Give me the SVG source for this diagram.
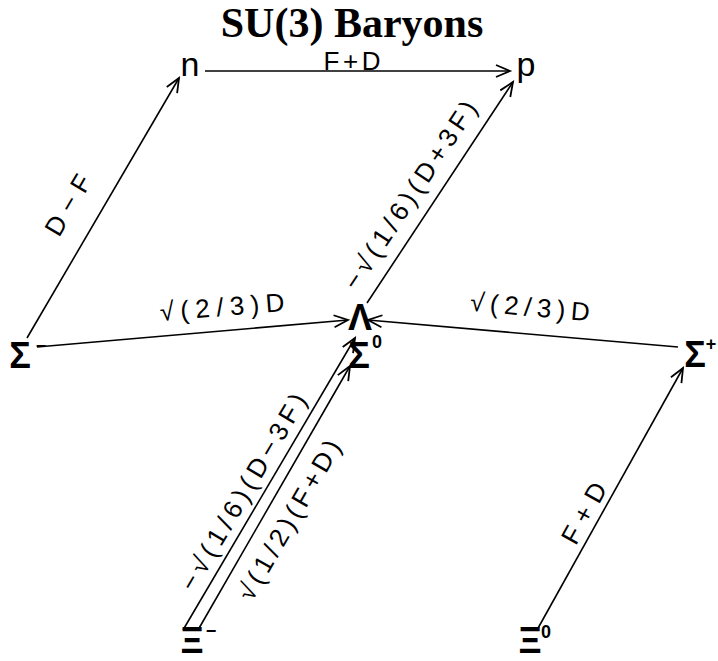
<svg xmlns="http://www.w3.org/2000/svg" width="718" height="661" viewBox="0 0 718 661">
<style>
.bg{fill:#fff}
.title{font-family:"Liberation Serif","Times New Roman",serif;font-weight:bold;font-size:42px;fill:#000}
.lbl{font-family:"Liberation Sans",Arial,sans-serif;font-size:26px;fill:#000}
.node{font-family:"Liberation Sans",Arial,sans-serif;font-size:34px;fill:#000}
.greek{font-family:"Liberation Sans",Arial,sans-serif;font-weight:bold;font-size:36px;fill:#000}
.sup{font-family:"Liberation Sans",Arial,sans-serif;font-weight:bold;font-size:18px;fill:#000}
.edge{stroke:#000;stroke-width:1.6;fill:none;marker-end:url(#arr)}
</style>
<defs>
<marker id="arr" markerUnits="userSpaceOnUse" markerWidth="18" markerHeight="16" refX="15" refY="7" orient="auto">
<path d="M1,1 L15,7 L1,13" fill="none" stroke="#000" stroke-width="1.8"/>
</marker>
</defs>
<rect class="bg" x="0" y="0" width="718" height="661"/>
<text class="title" x="352" y="37" text-anchor="middle">SU(3) Baryons</text>

<g id="connectors">
<line class="edge" x1="205" y1="71" x2="510" y2="71"/>
<line class="edge" x1="27" y1="338" x2="179" y2="78"/>
<line class="edge" x1="367" y1="303" x2="513" y2="82"/>
<line class="edge" x1="37" y1="347" x2="348" y2="320"/>
<line class="edge" x1="678" y1="347" x2="368" y2="320"/>
<line class="edge" x1="537" y1="630" x2="683" y2="368"/>
<line class="edge" x1="183" y1="630" x2="355" y2="338"/>
<line class="edge" x1="198" y1="630" x2="350" y2="366"/>
</g>

<g id="labels">
<text class="lbl" x="352" y="70" text-anchor="middle" textLength="57" lengthAdjust="spacing">F+D</text>
<g transform="translate(68,205) rotate(-59.7)"><text class="lbl" x="0" y="9" text-anchor="middle" textLength="66" lengthAdjust="spacing">D−F</text></g>
<g transform="translate(410,195) rotate(-56.5)"><text class="lbl" x="0" y="9" text-anchor="middle" textLength="220" lengthAdjust="spacing">−√(1/6)(D+3F)</text></g>
<g transform="translate(222,307) rotate(-4.6)"><text class="lbl" x="0" y="9" text-anchor="middle" textLength="125" lengthAdjust="spacing">√(2/3)D</text></g>
<g transform="translate(530,307) rotate(5)"><text class="lbl" x="0" y="9" text-anchor="middle" textLength="120" lengthAdjust="spacing">√(2/3)D</text></g>
<g transform="translate(584,513) rotate(-60.9)"><text class="lbl" x="0" y="9" text-anchor="middle" textLength="66" lengthAdjust="spacing">F+D</text></g>
<g transform="translate(243,492) rotate(-59.5)"><text class="lbl" x="0" y="9" text-anchor="middle" textLength="224" lengthAdjust="spacing">−√(1/6)(D−3F)</text></g>
<g transform="translate(289,520) rotate(-60)"><text class="lbl" x="0" y="9" text-anchor="middle" textLength="180" lengthAdjust="spacing">√(1/2)(F+D)</text></g>
</g>

<g id="node-n"><text class="node" x="190" y="76" text-anchor="middle">n</text></g>
<g id="node-p"><text class="node" x="526" y="76" text-anchor="middle">p</text></g>
<g id="node-sigma-minus"><text class="greek" x="20" y="368" text-anchor="middle">Σ</text><text class="sup" x="41" y="352" text-anchor="middle">−</text></g>
<g id="node-lambda"><text class="greek" x="360" y="330" text-anchor="middle" font-size="30">Λ</text></g>
<g id="node-sigma-zero"><text class="greek" x="359" y="368" text-anchor="middle" font-size="33">Σ</text><text class="sup" x="377" y="348" text-anchor="middle" font-size="16">0</text></g>
<g id="node-sigma-plus"><text class="greek" x="695" y="367" text-anchor="middle">Σ</text><text class="sup" x="711" y="350" text-anchor="middle">+</text></g>
<g id="node-xi-minus"><text class="greek" x="192" y="653" text-anchor="middle" font-size="32">Ξ</text><text class="sup" x="211" y="637" text-anchor="middle">−</text></g>
<g id="node-xi-zero"><text class="greek" x="530" y="653" text-anchor="middle" font-size="32">Ξ</text><text class="sup" x="546" y="638" text-anchor="middle" font-size="16">0</text></g>
</svg>
